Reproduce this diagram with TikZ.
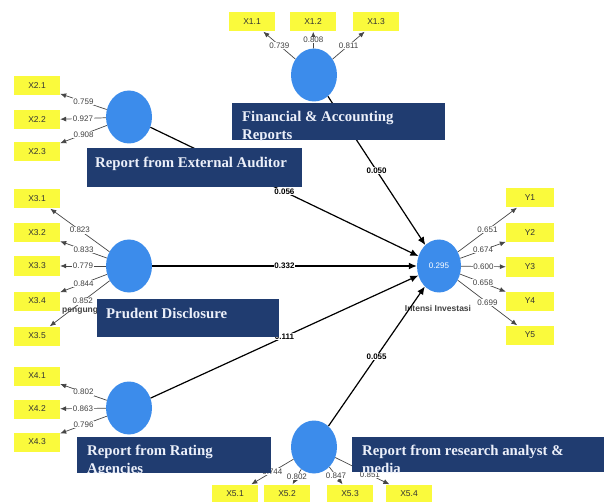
\documentclass[tikz,border=0pt]{standalone}
\usepackage{fontspec}
\setmainfont{Liberation Sans}
\newfontfamily\boxserif{Liberation Serif}
\usetikzlibrary{shapes.geometric,arrows.meta}
\definecolor{navy}{RGB}{32,60,112}
\definecolor{lvblue}{RGB}{60,140,235}
\definecolor{ybox}{RGB}{250,250,60}
\definecolor{boxtxt}{RGB}{236,240,250}
\definecolor{loadgray}{RGB}{70,70,70}
\tikzset{
  lv/.style={ellipse, fill=lvblue, draw=none, minimum width=46pt, minimum height=53pt, inner sep=0pt},
  ind/.style={rectangle, fill=ybox, minimum width=46pt, minimum height=19pt, inner sep=0pt, font=\fontsize{8.5}{10}\selectfont, text=black!80},
  load/.style={draw=loadgray, line width=0.7pt, -{Latex[length=6pt,width=5pt]}},
  pathc/.style={draw=black, line width=1.2pt, -{Latex[length=8pt,width=7pt]}},
  ll/.style={fill=white, inner sep=0.6pt, font=\fontsize{8}{9}\selectfont, text=black!75},
  pl/.style={midway, fill=white, inner sep=0.8pt, font=\bfseries\fontsize{8}{9}\selectfont},
  navybox/.style={rectangle, fill=navy, inner sep=0pt, anchor=north west},
  boxtext/.style={font=\boxserif\bfseries\fontsize{14.8}{18}\selectfont, text=boxtxt, inner sep=0pt, anchor=base west},
  lvname/.style={font=\bfseries\fontsize{8.5}{10}\selectfont, text=black!75, inner sep=0pt}
}
\begin{document}
\begin{tikzpicture}[x=1pt,y=-1pt]
\useasboundingbox (0,0) rectangle (604,502);
\clip (0,0) rectangle (604,502);

% latent variables
\node[lv] (F) at (314,75) {};
\node[lv] (A) at (129,117) {};
\node[lv] (P) at (129,266) {};
\node[lv] (R) at (129,408) {};
\node[lv] (M) at (314,447) {};
\node[lv, minimum width=44pt, text=white, font=\fontsize{8}{9}\selectfont] (I) at (439,266) {0.295};
\node[lvname] (Iname) at (438,308) {Intensi Investasi};
\node[lvname, anchor=west] (Pname) at (62,311) {pengung};

% indicators
\node[ind] (X11) at (252,22) {X1.1};
\node[ind] (X12) at (313,22) {X1.2};
\node[ind] (X13) at (376,22) {X1.3};
\node[ind] (X21) at (37,86) {X2.1};
\node[ind] (X22) at (37,120) {X2.2};
\node[ind] (X23) at (37,152) {X2.3};
\node[ind] (X31) at (37,199) {X3.1};
\node[ind] (X32) at (37,233) {X3.2};
\node[ind] (X33) at (37,266) {X3.3};
\node[ind] (X34) at (37,301) {X3.4};
\node[ind] (X35) at (37,336) {X3.5};
\node[ind] (X41) at (37,376) {X4.1};
\node[ind] (X42) at (37,409) {X4.2};
\node[ind] (X43) at (37,442) {X4.3};
\node[ind] (X51) at (235,494) {X5.1};
\node[ind] (X52) at (287,494) {X5.2};
\node[ind] (X53) at (350,494) {X5.3};
\node[ind] (X54) at (409,494) {X5.4};
\node[ind, minimum width=48pt] (Y1) at (530,198) {Y1};
\node[ind, minimum width=48pt] (Y2) at (530,233) {Y2};
\node[ind, minimum width=48pt] (Y3) at (530,267) {Y3};
\node[ind, minimum width=48pt] (Y4) at (530,301) {Y4};
\node[ind, minimum width=48pt] (Y5) at (530,335) {Y5};

% loadings
\draw[load] (F) -- (X11) node[ll, midway] {0.739};
\draw[load] (F) -- (X12) node[ll, midway] {0.808};
\draw[load] (F) -- (X13) node[ll, midway] {0.811};
\draw[load] (A) -- (X21) node[ll, midway] {0.759};
\draw[load] (A) -- (X22) node[ll, midway] {0.927};
\draw[load] (A) -- (X23) node[ll, midway] {0.908};
\draw[load] (P) -- (X31) node[ll, midway] {0.823};
\draw[load] (P) -- (X32) node[ll, midway] {0.833};
\draw[load] (P) -- (X33) node[ll, midway] {0.779};
\draw[load] (P) -- (X34) node[ll, midway] {0.844};
\draw[load] (P) -- (X35) node[ll, pos=0.45] {0.852};
\draw[load] (R) -- (X41) node[ll, midway] {0.802};
\draw[load] (R) -- (X42) node[ll, midway] {0.863};
\draw[load] (R) -- (X43) node[ll, midway] {0.796};
\draw[load] (M) -- (X51) node[ll, midway] {0.744};
\draw[load] (M) -- (X52) node[ll, midway] {0.802};
\draw[load] (M) -- (X53) node[ll, midway] {0.847};
\draw[load] (M) -- (X54) node[ll, pos=0.64] {0.851};
\draw[load] (I) -- (Y1) node[ll, midway] {0.651};
\draw[load] (I) -- (Y2) node[ll, midway] {0.674};
\draw[load] (I) -- (Y3) node[ll, midway] {0.600};
\draw[load] (I) -- (Y4) node[ll, midway] {0.658};
\draw[load] (I) -- (Y5) node[ll, midway] {0.699};

% path coefficients
\draw[pathc] (F) -- (I) node[pl] {0.050};
\draw[pathc] (A) -- (I) node[pl] {0.056};
\draw[pathc] (P) -- (I) node[pl] {0.332};
\draw[pathc] (R) -- (I) node[pl] {0.111};
\draw[pathc] (M) -- (I) node[pl] {0.055};

% construct name boxes
\node[navybox, minimum width=213pt, minimum height=37pt] (fin) at (232,103) {};
\begin{scope}
  \clip (fin.north west) rectangle (fin.south east);
  \node[boxtext] (finA) at ([shift={(10pt,-19pt)}]fin.north west) {Financial \& Accounting};
  \node[boxtext] (finB) at ([shift={(10pt,-37pt)}]fin.north west) {Reports};
\end{scope}

\node[navybox, minimum width=215pt, minimum height=39pt] (ea) at (87,148) {};
\node[boxtext] (eaA) at ([shift={(8pt,-20pt)}]ea.north west) {Report from External Auditor};

\node[navybox, minimum width=182pt, minimum height=38pt] (pd) at (97,299) {};
\node[boxtext] (pdA) at ([shift={(9pt,-19pt)}]pd.north west) {Prudent Disclosure};

\node[navybox, minimum width=194pt, minimum height=36pt] (ra) at (77,437) {};
\begin{scope}
  \clip (ra.north west) rectangle (ra.south east);
  \node[boxtext] (raA) at ([shift={(10pt,-18pt)}]ra.north west) {Report from Rating};
  \node[boxtext] (raB) at ([shift={(10pt,-36pt)}]ra.north west) {Agencies};
\end{scope}

\node[navybox, minimum width=252pt, minimum height=35pt] (rr) at (352,437) {};
\begin{scope}
  \clip (rr.north west) rectangle (rr.south east);
  \node[boxtext] (rrA) at ([shift={(10pt,-18pt)}]rr.north west) {Report from research analyst \&};
  \node[boxtext] (rrB) at ([shift={(10pt,-36pt)}]rr.north west) {media};
\end{scope}
\end{tikzpicture}
\end{document}
